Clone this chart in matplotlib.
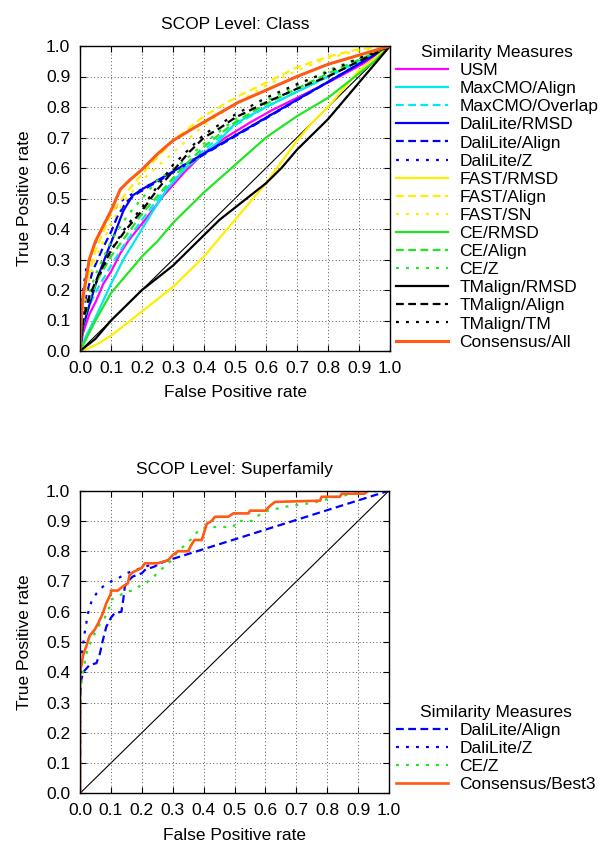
import matplotlib
matplotlib.use("Agg")
import matplotlib.pyplot as plt

plt.rcParams['font.family'] = ['Liberation Sans', 'DejaVu Sans']
plt.rcParams['font.size'] = 12.5

# ---- SCOP Level: Class ----
usm_x = [0, 0.01, 0.03, 0.05, 0.075, 0.1, 0.13, 0.155, 0.21, 0.27, 0.34, 0.40, 0.47, 0.55, 0.62, 0.70, 0.80, 0.91, 1]
usm_y = [0, 0.06, 0.12, 0.16, 0.22, 0.26, 0.32, 0.36, 0.43, 0.51, 0.59, 0.65, 0.70, 0.75, 0.79, 0.83, 0.88, 0.94, 1]

mcmo_align_x = [0, 0.02, 0.05, 0.1, 0.14, 0.17, 0.2, 0.23, 0.28, 0.34, 0.39, 0.44, 0.5, 0.6, 0.7, 0.8, 0.9, 1]
mcmo_align_y = [0, 0.05, 0.11, 0.22, 0.30, 0.35, 0.40, 0.45, 0.53, 0.60, 0.64, 0.68, 0.745, 0.80, 0.85, 0.90, 0.95, 1]

mcmo_ovl_x = [0, 0.01, 0.03, 0.06, 0.1, 0.15, 0.2, 0.26, 0.32, 0.4, 0.5, 0.6, 0.7, 0.8, 0.9, 1]
mcmo_ovl_y = [0, 0.08, 0.15, 0.21, 0.28, 0.36, 0.43, 0.51, 0.58, 0.66, 0.74, 0.80, 0.85, 0.90, 0.95, 1]

dali_rmsd_x = [0, 0.01, 0.03, 0.06, 0.09, 0.11, 0.14, 0.17, 0.2, 1]
dali_rmsd_y = [0, 0.08, 0.15, 0.25, 0.33, 0.38, 0.46, 0.51, 0.53, 1]

dali_align_x = [0, 0.005, 0.02, 0.04, 0.07, 0.1, 0.12, 0.15, 0.19, 1]
dali_align_y = [0, 0.1, 0.18, 0.26, 0.33, 0.39, 0.44, 0.49, 0.52, 1]

dali_z_x = [0, 0.003, 0.01, 0.02, 0.04, 0.06, 0.08, 0.1, 0.13, 0.16, 0.19, 1]
dali_z_y = [0, 0.12, 0.2, 0.27, 0.33, 0.38, 0.42, 0.45, 0.49, 0.51, 0.525, 1]

fast_rmsd_x = [0, 0.03, 0.06, 0.1, 0.15, 0.2, 0.25, 0.3, 0.35, 0.4, 0.45, 0.5, 0.55, 0.6, 0.65, 0.7, 0.75, 0.8, 0.85, 0.9, 0.95, 1]
fast_rmsd_y = [0, 0.01, 0.025, 0.05, 0.09, 0.13, 0.17, 0.21, 0.26, 0.31, 0.37, 0.43, 0.49, 0.55, 0.62, 0.69, 0.75, 0.80, 0.86, 0.92, 0.96, 1]

fast_x = [0, 0.005, 0.02, 0.05, 0.1, 0.15, 0.2, 0.3, 0.4, 0.5, 0.6, 0.7, 0.8, 0.9, 1]
fast_align_y = [0, 0.12, 0.22, 0.33, 0.45, 0.52, 0.58, 0.69, 0.77, 0.83, 0.88, 0.93, 0.965, 0.99, 1]
fast_sn_y = [0, 0.1, 0.2, 0.3, 0.42, 0.50, 0.56, 0.65, 0.74, 0.81, 0.87, 0.92, 0.96, 0.985, 1]

ce_rmsd_x = [0, 0.02, 0.05, 0.1, 0.15, 0.2, 0.25, 0.3, 0.35, 0.4, 0.5, 0.6, 0.7, 0.8, 0.9, 0.95, 1]
ce_rmsd_y = [0, 0.04, 0.1, 0.19, 0.25, 0.31, 0.36, 0.42, 0.47, 0.52, 0.61, 0.70, 0.77, 0.83, 0.91, 0.95, 1]

ce_align_x = [0, 0.01, 0.03, 0.06, 0.1, 0.15, 0.2, 0.26, 0.32, 0.4, 0.5, 0.6, 0.7, 0.8, 0.9, 1]
ce_align_y = [0, 0.09, 0.17, 0.24, 0.31, 0.38, 0.45, 0.52, 0.59, 0.67, 0.75, 0.81, 0.86, 0.91, 0.955, 1]

ce_z_x = [0, 0.01, 0.03, 0.05, 0.1, 0.15, 0.2, 0.25, 0.32, 0.4, 0.5, 0.6, 0.7, 0.8, 0.9, 1]
ce_z_y = [0, 0.1, 0.19, 0.25, 0.36, 0.44, 0.50, 0.56, 0.61, 0.68, 0.76, 0.82, 0.87, 0.92, 0.96, 1]

tm_rmsd_x = [0, 0.05, 0.1, 0.15, 0.2, 0.25, 0.3, 0.35, 0.4, 0.45, 0.5, 0.55, 0.6, 0.65, 0.7, 0.75, 0.8, 0.85, 0.9, 0.95, 1]
tm_rmsd_y = [0, 0.04, 0.1, 0.15, 0.2, 0.24, 0.28, 0.33, 0.38, 0.43, 0.47, 0.51, 0.55, 0.6, 0.66, 0.71, 0.76, 0.82, 0.88, 0.94, 1]

tm_align_x = [0, 0.01, 0.03, 0.06, 0.1, 0.15, 0.2, 0.25, 0.3, 0.35, 0.4, 0.45, 0.5, 0.6, 0.7, 0.8, 0.9, 1]
tm_align_y = [0, 0.1, 0.18, 0.25, 0.33, 0.40, 0.46, 0.53, 0.59, 0.65, 0.70, 0.73, 0.765, 0.815, 0.86, 0.90, 0.95, 1]

tm_tm_x = [0, 0.01, 0.03, 0.05, 0.1, 0.15, 0.2, 0.3, 0.4, 0.5, 0.6, 0.7, 0.8, 0.9, 1]
tm_tm_y = [0, 0.1, 0.17, 0.22, 0.33, 0.41, 0.47, 0.61, 0.71, 0.775, 0.83, 0.875, 0.915, 0.96, 1]

cons_all_x = [0, 0.005, 0.01, 0.03, 0.05, 0.07, 0.1, 0.13, 0.16, 0.2, 0.25, 0.3, 0.37, 0.45, 0.51, 0.6, 0.7, 0.8, 0.9, 1]
cons_all_y = [0, 0.12, 0.18, 0.3, 0.36, 0.40, 0.46, 0.53, 0.56, 0.595, 0.646, 0.69, 0.733, 0.78, 0.815, 0.855, 0.9, 0.94, 0.97, 1]

# ---- SCOP Level: Superfamily ----
sf_dali_align_x = [0, 0, 0.003, 0.01, 0.031, 0.053, 0.064, 0.074, 0.085, 0.1, 0.112, 0.134, 0.14, 0.145, 0.155, 0.17, 0.2, 0.21, 0.24, 0.27, 1]
sf_dali_align_y = [0, 0.3, 0.37, 0.40, 0.424, 0.43, 0.46, 0.506, 0.55, 0.58, 0.595, 0.60, 0.64, 0.683, 0.70, 0.716, 0.727, 0.738, 0.749, 0.765, 1]

sf_dali_z_x = [0, 0, 0.006, 0.015, 0.026, 0.037, 0.053, 0.074, 0.1, 0.123, 0.15, 0.2, 0.215, 0.24]
sf_dali_z_y = [0, 0.35, 0.46, 0.53, 0.595, 0.633, 0.66, 0.683, 0.70, 0.71, 0.727, 0.745, 0.75, 0.76]

sf_ce_z_x = [0, 0.002, 0.01, 0.02, 0.037, 0.058, 0.08, 0.096, 0.1, 0.11, 0.15, 0.17, 0.19, 0.21, 0.225, 0.24, 0.25, 0.28, 0.296, 0.317,
             0.34, 0.36, 0.39, 0.42, 0.496, 0.507, 0.56, 0.59, 0.68, 0.755, 0.78, 0.83, 0.928, 1]
sf_ce_z_y = [0, 0.35, 0.40, 0.46, 0.506, 0.55, 0.58, 0.617, 0.64, 0.644, 0.666, 0.67, 0.683, 0.69, 0.705, 0.716, 0.73, 0.754, 0.77, 0.80,
             0.82, 0.84, 0.876, 0.88, 0.88, 0.90, 0.90, 0.93, 0.95, 0.96, 0.967, 0.98, 0.997, 1]

sf_cons_x = [0, 0, 0.006, 0.01, 0.02, 0.031, 0.047, 0.058, 0.074, 0.085, 0.1, 0.1, 0.123, 0.134, 0.155, 0.16, 0.17, 0.2, 0.21, 0.25,
             0.285, 0.3, 0.317, 0.35, 0.36, 0.37, 0.394, 0.404, 0.41, 0.426, 0.437, 0.48, 0.496, 0.545, 0.55, 0.6, 0.615, 0.631,
             0.777, 0.782, 0.841, 0.847, 0.92, 0.933, 1]
sf_cons_y = [0, 0.40, 0.43, 0.457, 0.485, 0.52, 0.54, 0.56, 0.595, 0.628, 0.66, 0.67, 0.67, 0.68, 0.694, 0.72, 0.73, 0.745, 0.76, 0.76,
             0.77, 0.787, 0.80, 0.80, 0.82, 0.837, 0.837, 0.87, 0.89, 0.90, 0.914, 0.914, 0.925, 0.925, 0.934, 0.934, 0.95, 0.963,
             0.967, 0.98, 0.98, 0.99, 0.99, 1.0, 1.0]

ticks = [0.0, 0.1, 0.2, 0.3, 0.4, 0.5, 0.6, 0.7, 0.8, 0.9, 1.0]
tick_labels = ["%.1f" % t for t in ticks]

MAG = "#ff00ff"
CYA = "#00e8f0"
BLU = "#0000ff"
YEL = "#ffee00"
GRN = "#22e622"
BLK = "#000000"
ORG = "#ff5a14"

DASH = (0, (3.5, 2.0))
DOT = (0, (1.3, 3.2))


def style_axes(ax, title):
    ax.set_xlim(0, 1)
    ax.set_ylim(0, 1)
    ax.set_xticks(ticks)
    ax.set_yticks(ticks)
    ax.set_xticklabels(tick_labels)
    ax.set_yticklabels(tick_labels)
    ax.tick_params(direction="in", length=4, width=0.8, top=True, right=True, pad=7)
    ax.tick_params(axis="x", pad=7)
    ax.grid(True, color="#555555", linestyle=(0, (1, 2.5)), linewidth=0.7)
    for s in ax.spines.values():
        s.set_linewidth(1.0)
    ax.set_title(title, fontsize=12.5, pad=12)
    ax.set_xlabel("False Positive rate", labelpad=7)
    ax.set_ylabel("True Positive rate", labelpad=10)
    # random guess diagonal
    ax.plot([0, 1], [0, 1], color="black", linewidth=0.8, zorder=1)


def add_key(ax, top_px):
    ax.legend(title="Similarity Measures", loc="upper left",
              bbox_to_anchor=(396 / 598, 1 - top_px / 844), bbox_transform=fig.transFigure,
              frameon=False, borderpad=0, borderaxespad=0, handlelength=3.0,
              handletextpad=0.65, labelspacing=0.17, fontsize=12.5, title_fontsize=12.5)


fig = plt.figure(figsize=(5.98, 8.44), dpi=100)

ax1 = fig.add_axes([80 / 598, 1 - 351 / 844, 310 / 598, 305 / 844])
style_axes(ax1, "SCOP Level: Class")
lw = 1.6
ax1.plot(usm_x, usm_y, color=MAG, lw=lw, label="USM")
ax1.plot(mcmo_align_x, mcmo_align_y, color=CYA, lw=lw, label="MaxCMO/Align")
ax1.plot(mcmo_ovl_x, mcmo_ovl_y, color=CYA, lw=lw, ls=DASH, label="MaxCMO/Overlap")
ax1.plot(dali_rmsd_x, dali_rmsd_y, color=BLU, lw=lw, label="DaliLite/RMSD")
ax1.plot(dali_align_x, dali_align_y, color=BLU, lw=lw, ls=DASH, label="DaliLite/Align")
ax1.plot(dali_z_x, dali_z_y, color=BLU, lw=lw, ls=DOT, label="DaliLite/Z")
ax1.plot(fast_rmsd_x, fast_rmsd_y, color=YEL, lw=lw, label="FAST/RMSD")
ax1.plot(fast_x, fast_align_y, color=YEL, lw=lw, ls=DASH, label="FAST/Align")
ax1.plot(fast_x, fast_sn_y, color=YEL, lw=lw, ls=DOT, label="FAST/SN")
ax1.plot(ce_rmsd_x, ce_rmsd_y, color=GRN, lw=lw, label="CE/RMSD")
ax1.plot(ce_align_x, ce_align_y, color=GRN, lw=lw, ls=DASH, label="CE/Align")
ax1.plot(ce_z_x, ce_z_y, color=GRN, lw=lw, ls=DOT, label="CE/Z")
ax1.plot(tm_rmsd_x, tm_rmsd_y, color=BLK, lw=lw, label="TMalign/RMSD")
ax1.plot(tm_align_x, tm_align_y, color=BLK, lw=lw, ls=DASH, label="TMalign/Align")
ax1.plot(tm_tm_x, tm_tm_y, color=BLK, lw=lw, ls=DOT, label="TMalign/TM")
ax1.plot(cons_all_x, cons_all_y, color=ORG, lw=2.2, label="Consensus/All")
add_key(ax1, 45)

ax2 = fig.add_axes([80 / 598, 1 - 793.3 / 844, 309 / 598, 302.6 / 844])
style_axes(ax2, "SCOP Level: Superfamily")
ax2.plot(sf_dali_align_x, sf_dali_align_y, color=BLU, lw=lw, ls=DASH, label="DaliLite/Align")
ax2.plot(sf_dali_z_x, sf_dali_z_y, color=BLU, lw=lw, ls=DOT, label="DaliLite/Z")
ax2.plot(sf_ce_z_x, sf_ce_z_y, color=GRN, lw=lw, ls=DOT, label="CE/Z")
ax2.plot(sf_cons_x, sf_cons_y, color=ORG, lw=1.9, label="Consensus/Best3")
add_key(ax2, 705)

fig.savefig("out.png", dpi=100)
